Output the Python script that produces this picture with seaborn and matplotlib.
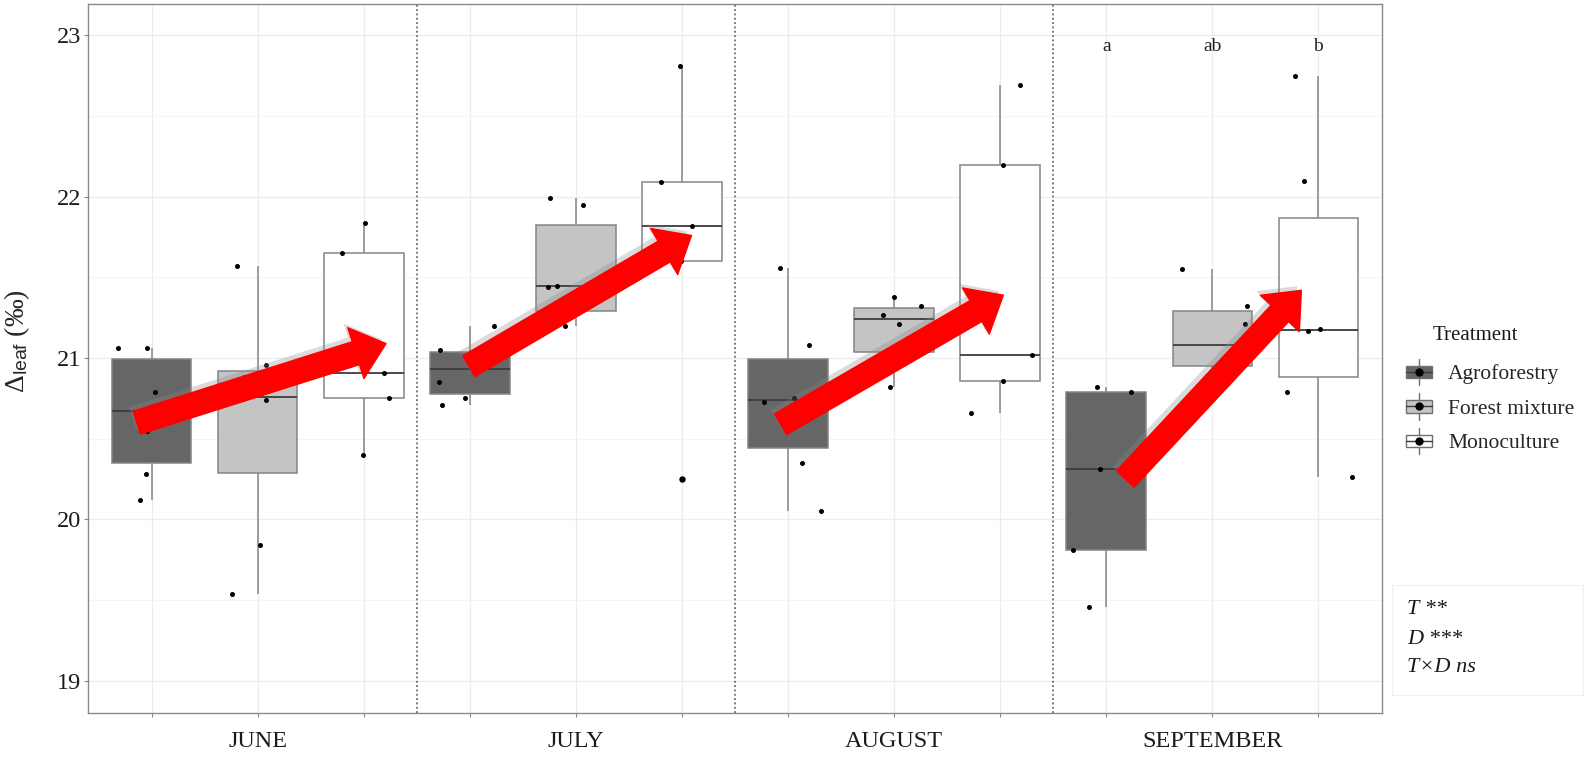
import numpy as np
import pandas as pd
import seaborn as sns
import matplotlib.pyplot as plt
import matplotlib.patheffects as pe
from matplotlib.patches import Rectangle, Patch, FancyArrowPatch, ArrowStyle
from matplotlib.lines import Line2D
from matplotlib.legend_handler import HandlerBase

sns.set_theme(style="white")
plt.rcParams['font.family'] = ['Liberation Serif', 'DejaVu Serif']
plt.rcParams['mathtext.fontset'] = 'custom'
plt.rcParams['mathtext.rm'] = 'Liberation Serif'
plt.rcParams['mathtext.it'] = 'Liberation Serif:italic'
plt.rcParams['mathtext.sf'] = 'Liberation Sans'

# data (leaf carbon isotope discrimination, per mil)
months = ["JUNE", "JULY", "AUGUST", "SEPTEMBER"]
treatments = ["Agroforestry", "Forest mixture", "Monoculture"]
colors = ["#666666", "#c4c4c4", "#ffffff"]

agroforestry = [
    [21.06, 21.06, 20.79, 20.55, 20.28, 20.12],
    [21.20, 21.05, 21.01, 20.85, 20.75, 20.71],
    [21.56, 21.08, 20.75, 20.73, 20.35, 20.05],
    [20.82, 20.79, 20.31, 19.81, 19.46],
]
forest_mixture = [
    [21.57, 20.96, 20.88, 20.76, 20.74, 19.84, 19.54],
    [21.99, 21.95, 21.45, 21.44, 21.24, 21.20],
    [21.38, 21.32, 21.27, 21.21, 20.98, 20.82],
    [21.55, 21.32, 21.21, 20.95, 20.95, 20.94],
]
monoculture = [
    [21.84, 21.65, 20.91, 20.75, 20.40],
    [22.81, 22.09, 21.82, 21.60, 20.25],
    [22.69, 22.20, 21.02, 20.86, 20.66],
    [22.75, 22.10, 21.18, 21.17, 20.79, 20.26],
]
september_letters = ["a", "ab", "b"]
letter_y = 22.93

# red trend arrows (tail -> tip), in box-position / delta units
arrow_tails = [(-0.14, 20.60), (2.99, 20.95), (5.93, 20.59), (9.18, 20.25)]
arrow_tips = [(2.21, 21.09), (5.09, 21.76), (8.03, 21.39), (10.84, 21.42)]

stats_lines = ["T **", "D ***", "T\u00d7D ns"]

rows = []
for m, month in enumerate(months):
    for t, vals in zip(treatments, [agroforestry[m], forest_mixture[m], monoculture[m]]):
        for v in vals:
            rows.append({"group": month + " " + t, "treatment": t, "value": v})
df = pd.DataFrame(rows)
order = [m + " " + t for m in months for t in treatments]

W, H = 1589, 758
fig, ax = plt.subplots(figsize=(W / 100, H / 100), dpi=100)
fig.subplots_adjust(left=88 / W, right=1382 / W, bottom=1 - 713 / H, top=1 - 4 / H)

sns.boxplot(data=df, x="group", y="value", hue="treatment", order=order,
            hue_order=treatments, palette=colors, saturation=1, dodge=False,
            width=0.75, linecolor="#858585", linewidth=1.1, showcaps=False,
            medianprops=dict(color="#3c3c3c", linewidth=1.3),
            flierprops=dict(marker="o", markersize=3.6, markerfacecolor="black",
                            markeredgecolor="black"),
            legend=False, ax=ax)

np.random.seed(2)
sns.stripplot(data=df, x="group", y="value", order=order, color="black",
              size=3.6, jitter=0.33, ax=ax, zorder=3)

ax.set_xlim(-0.6, 11.6)
ax.set_ylim(18.80, 23.195)

xlabels = [""] * 12
for i, m in enumerate(months):
    xlabels[i * 3 + 1] = m
ax.set_xticks(range(12))
ax.set_xticklabels(xlabels)
ax.set_yticks([19, 20, 21, 22, 23])
ax.set_yticks([19.5, 20.5, 21.5, 22.5], minor=True)
ax.set_xlabel("")
ax.set_ylabel(r"$\Delta_{\mathsf{leaf}}$ (‰)", fontsize=20)
ax.yaxis.set_label_coords(-0.043, 0.525)

ax.grid(which="major", color="#ececec", linewidth=0.9)
ax.grid(which="minor", axis="y", color="#f4f4f4", linewidth=0.8)
ax.set_axisbelow(True)
ax.tick_params(axis="both", which="major", length=3, width=0.8, color="#888888",
               labelsize=17.5, labelcolor="#1a1a1a", left=True, bottom=True)
ax.tick_params(axis="x", pad=10)
ax.tick_params(axis="y", pad=2)
ax.tick_params(which="minor", length=0)
for s in ax.spines.values():
    s.set_color("#8a8a8a")
    s.set_linewidth(1.0)

for s in [2.5, 5.5, 8.5]:
    ax.axvline(s, color="#6a6a6a", linestyle=(0, (1, 1.4)), linewidth=1.3, zorder=1)

for i, lab in enumerate(september_letters):
    ax.text(9 + i, letter_y, lab, ha="center", va="center", fontsize=14, color="#222222")

for tail, tip in zip(arrow_tails, arrow_tips):
    arr = FancyArrowPatch(tail, tip, shrinkA=0, shrinkB=0,
                          arrowstyle=ArrowStyle.Simple(head_length=0.95, head_width=1.6, tail_width=0.72),
                          mutation_scale=24, color="#ff0000", zorder=6)
    arr.set_path_effects([pe.SimplePatchShadow(offset=(-3, 3), shadow_rgbFace="#888888", alpha=0.3),
                          pe.Normal()])
    ax.add_patch(arr)


class BoxKey(HandlerBase):
    def create_artists(self, legend, orig_handle, xdescent, ydescent, width, height, fontsize, trans):
        x0, y0 = -xdescent, -ydescent
        cx, cy = x0 + width / 2, y0 + height / 2
        bw, bh = width * 0.95, height * 0.52
        edge = "#707070"
        arts = [
            Line2D([cx, cx], [y0 - 1, y0 + height + 1], color=edge, lw=1.0, transform=trans),
            Rectangle((cx - bw / 2, cy - bh / 2), bw, bh, facecolor=orig_handle.get_facecolor(),
                      edgecolor=edge, lw=1.0, transform=trans),
            Line2D([cx - bw / 2, cx + bw / 2], [cy, cy], color="#3c3c3c", lw=1.0, transform=trans),
            Line2D([cx], [cy], marker="o", markersize=5, color="black", transform=trans),
        ]
        return arts


handles = [Patch(facecolor=c, edgecolor="#808080", label=t) for c, t in zip(colors, treatments)]
fig.legend(handles=handles, handler_map={Patch: BoxKey()}, loc="upper left",
           bbox_to_anchor=(1405 / W, 1 - 360 / H), frameon=False, fontsize=15.5,
           handlelength=1.3, handleheight=1.3, labelspacing=0.5, handletextpad=0.7,
           borderpad=0, borderaxespad=0)
fig.text(1433 / W, 1 - 335 / H, "Treatment", fontsize=15, va="center", ha="left", color="#1a1a1a")

fig.add_artist(Rectangle((1392 / W, 1 - 695 / H), 191 / W, 110 / H, transform=fig.transFigure,
                         fill=False, edgecolor="#f0f0f0", linewidth=1.0))
for i, line in enumerate(stats_lines):
    fig.text(1407 / W, 1 - (610 + i * 29) / H, line, fontsize=16, style="italic",
             va="center", ha="left", color="#1a1a1a")

fig.savefig("out.png", dpi=100)
